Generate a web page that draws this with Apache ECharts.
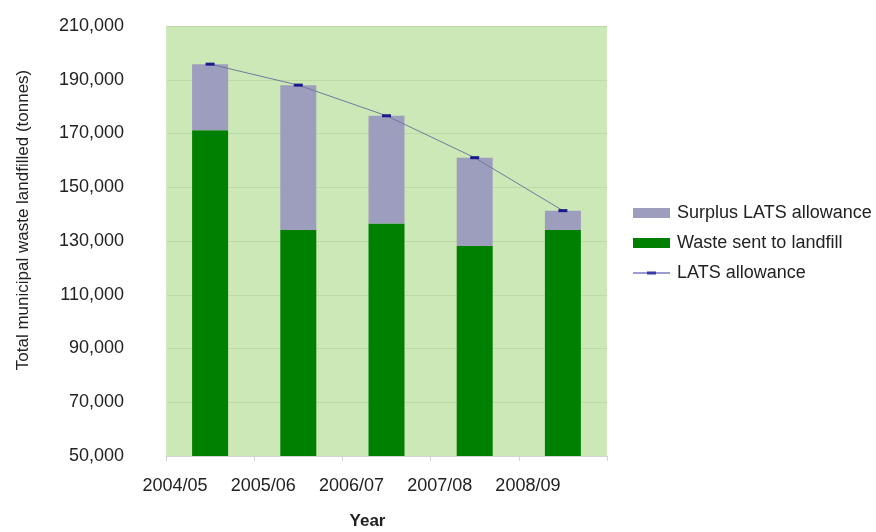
<!DOCTYPE html>
<html>
<head>
<meta charset="utf-8">
<script src="https://cdn.jsdelivr.net/npm/echarts@6/dist/echarts.min.js"></script>
<style>
  html, body { margin: 0; padding: 0; background: #fff; }
  #chart { width: 876px; height: 532px; }
</style>
</head>
<body>
<div id="chart"></div>
<script>
// values
const years = ["2004/05", "2005/06", "2006/07", "2007/08", "2008/09"];
const wasteToLandfill = [171200, 134100, 136500, 128100, 134100];
const surplusAllowance = [24600, 53900, 40100, 32900, 7200];
const latsAllowance = [195800, 188000, 176600, 161000, 141300];

const FONT = "Liberation Sans, Arial, sans-serif";
// thin line with a short dash in the middle, like the original legend key
const LINE_KEY = "path://M0,4.5L37,4.5L37,5.5L0,5.5Z M14,3.5L23,3.5L23,6.5L14,6.5Z";

const chart = echarts.init(document.getElementById("chart"));

chart.setOption({
  animation: false,
  textStyle: { fontFamily: FONT },
  grid: {
    left: 166,
    right: 269,
    top: 26,
    bottom: 76,
    outerBoundsMode: "none",
    show: true,
    backgroundColor: "#cde8b7",
    borderWidth: 0,
  },
  legend: {
    orient: "vertical",
    left: 628,
    top: 199,
    itemGap: 12,
    itemWidth: 37,
    itemHeight: 10,
    textStyle: { fontSize: 18, color: "#222", fontFamily: FONT, padding: [0, 0, 0, 2] },
    data: [
      { name: "Surplus LATS allowance", icon: "rect" },
      { name: "Waste sent to landfill", icon: "rect" },
      { name: "LATS allowance", icon: LINE_KEY, itemStyle: { color: "#3a3aa8" } },
    ],
  },
  xAxis: {
    type: "category",
    data: years,
    name: "Year",
    nameLocation: "middle",
    nameGap: 57,
    nameTextStyle: { fontSize: 17, fontWeight: "bold", color: "#222", padding: [0, 38, 0, 0] },
    axisLine: { lineStyle: { color: "#d4d4d4" } },
    axisTick: { show: true, length: 5, lineStyle: { color: "#d4d4d4" } },
    axisLabel: {
      fontSize: 18,
      color: "#222",
      margin: 21,
      padding: [0, 70, 0, 0],
    },
  },
  yAxis: {
    type: "value",
    min: 50000,
    max: 210000,
    interval: 20000,
    name: "Total municipal waste landfilled (tonnes)",
    nameLocation: "middle",
    nameGap: 134,
    nameTextStyle: { fontSize: 17, color: "#222", padding: [0, 0, 0, 42] },
    axisLine: { show: true, lineStyle: { color: "#d4e8c4" } },
    axisTick: { show: false },
    axisLabel: {
      fontSize: 18,
      color: "#222",
      margin: 42,
      formatter: (v) => v.toLocaleString("en-GB"),
    },
    splitLine: { lineStyle: { color: "#bcd9a6", width: 1 } },
  },
  series: [
    {
      name: "Waste sent to landfill",
      type: "bar",
      stack: "total",
      data: wasteToLandfill,
      barWidth: 36,
      itemStyle: { color: "#008000" },
    },
    {
      name: "Surplus LATS allowance",
      type: "bar",
      stack: "total",
      data: surplusAllowance,
      barWidth: 36,
      itemStyle: { color: "#9d9dbd" },
    },
    {
      name: "LATS allowance",
      type: "line",
      data: latsAllowance,
      symbol: "rect",
      symbolSize: [9, 3],
      itemStyle: { color: "#1a1a8c" },
      lineStyle: { color: "#6f7a9e", width: 1 },
      z: 5,
    },
  ],
});
</script>
</body>
</html>
